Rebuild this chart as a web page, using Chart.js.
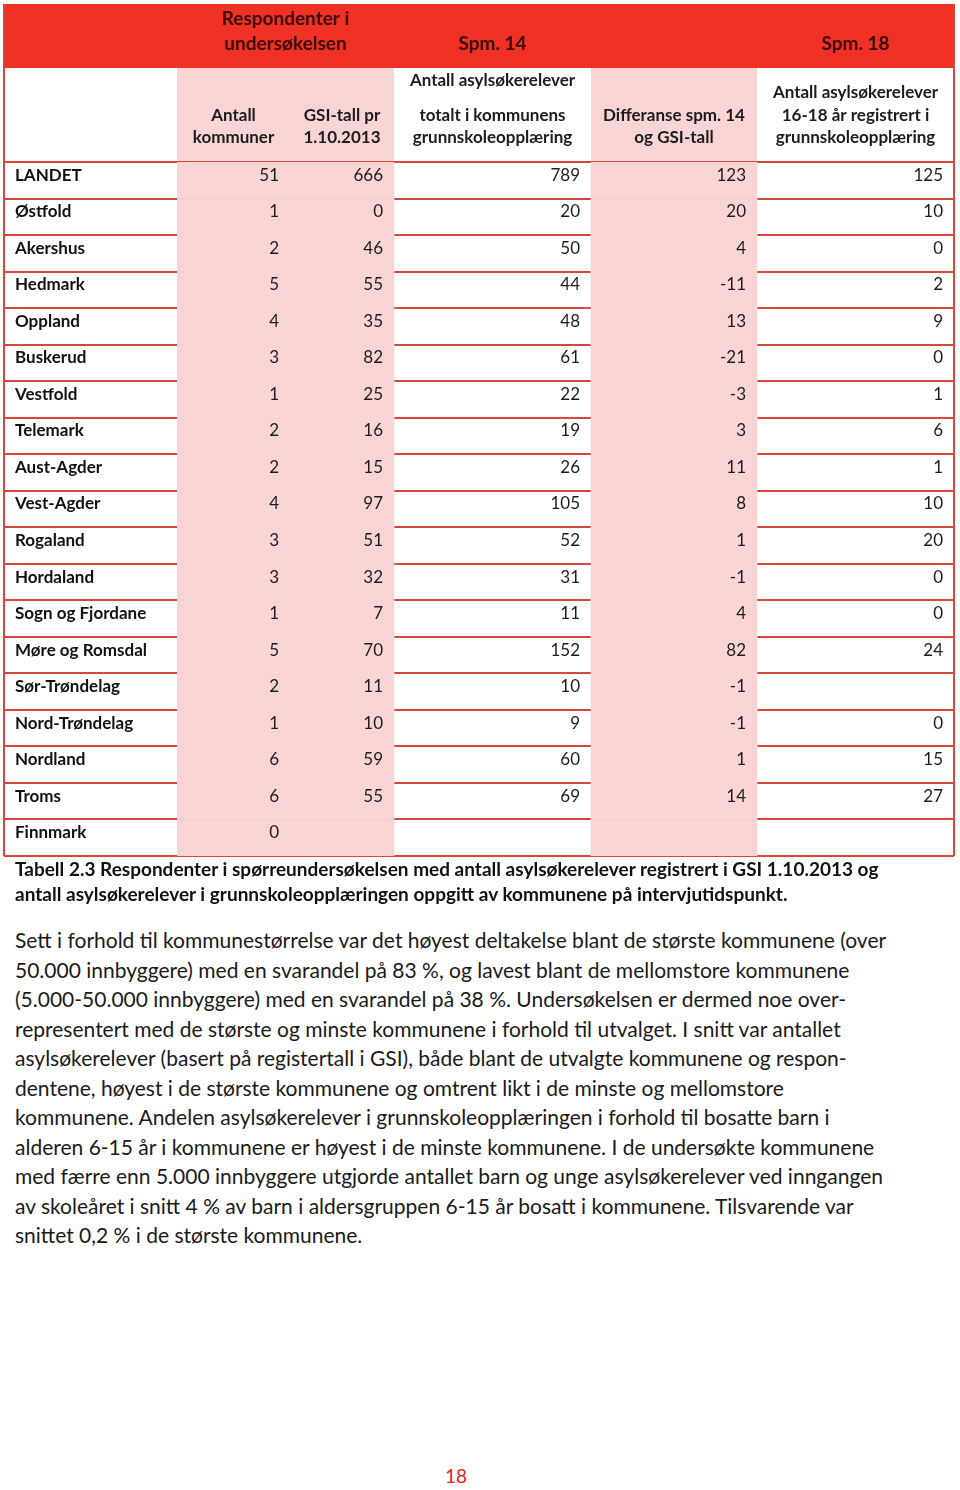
<!DOCTYPE html>
<html lang="no">
<head>
<meta charset="utf-8">
<title>Tabell 2.3</title>
<script src="https://cdn.jsdelivr.net/npm/chart.js@4/dist/chart.umd.min.js"></script>
<style>
  html, body { margin: 0; padding: 0; background: #fff; }
  body { width: 960px; height: 1490px; position: relative; font-family: Lato, "Open Sans", sans-serif; }
  #tabell { position: absolute; left: 0; top: 0; }
  .caption { position: absolute; left: 15px; top: 856px; font-weight: bold; font-size: 19px; line-height: 25px; color: #111; white-space: nowrap; }
  .tekst { position: absolute; left: 15px; top: 925px; font-size: 21px; line-height: 29.5px; color: #1a1a1a; white-space: nowrap; }
  .sidetall { position: absolute; left: 0; width: 912px; top: 1466px; text-align: center; font-size: 19px; line-height: 20px; color: #e2231a; }
</style>
</head>
<body>
<canvas id="tabell" width="960" height="870"></canvas>

<div class="caption">
  Tabell 2.3 Respondenter i spørreundersøkelsen med antall asylsøkerelever registrert i GSI 1.10.2013 og<br>
  antall asylsøkerelever i grunnskoleopplæringen oppgitt av kommunene på intervjutidspunkt.
</div>

<div class="tekst">
  Sett i forhold til kommunestørrelse var det høyest deltakelse blant de største kommunene (over<br>
  50.000 innbyggere) med en svarandel på 83 %, og lavest blant de mellomstore kommunene<br>
  (5.000-50.000 innbyggere) med en svarandel på 38 %. Undersøkelsen er dermed noe over-<br>
  representert med de største og minste kommunene i forhold til utvalget. I snitt var antallet<br>
  asylsøkerelever (basert på registertall i GSI), både blant de utvalgte kommunene og respon-<br>
  dentene, høyest i de største kommunene og omtrent likt i de minste og mellomstore<br>
  kommunene. Andelen asylsøkerelever i grunnskoleopplæringen i forhold til bosatte barn i<br>
  alderen 6-15 år i kommunene er høyest i de minste kommunene. I de undersøkte kommunene<br>
  med færre enn 5.000 innbyggere utgjorde antallet barn og unge asylsøkerelever ved inngangen<br>
  av skoleåret i snitt 4 % av barn i aldersgruppen 6-15 år bosatt i kommunene. Tilsvarende var<br>
  snittet 0,2 % i de største kommunene.
</div>

<div class="sidetall">18</div>

<script>
// --- data -----------------------------------------------------------------
const fylker = ['LANDET', 'Østfold', 'Akershus', 'Hedmark', 'Oppland', 'Buskerud', 'Vestfold',
  'Telemark', 'Aust-Agder', 'Vest-Agder', 'Rogaland', 'Hordaland', 'Sogn og Fjordane',
  'Møre og Romsdal', 'Sør-Trøndelag', 'Nord-Trøndelag', 'Nordland', 'Troms', 'Finnmark'];

const antallKommuner = [51, 1, 2, 5, 4, 3, 1, 2, 2, 4, 3, 3, 1, 5, 2, 1, 6, 6, 0];
const gsiTall        = [666, 0, 46, 55, 35, 82, 25, 16, 15, 97, 51, 32, 7, 70, 11, 10, 59, 55, null];
const spm14Totalt    = [789, 20, 50, 44, 48, 61, 22, 19, 26, 105, 52, 31, 11, 152, 10, 9, 60, 69, null];
const differanse     = [123, 20, 4, -11, 13, -21, -3, 3, 11, 8, 1, -1, 4, 82, -1, -1, 1, 14, null];
const spm18          = [125, 10, 0, 2, 9, 0, 1, 6, 1, 10, 20, 0, 0, 24, null, 0, 15, 27, null];

// header texts
const gruppeTitler = [['Respondenter i', 'undersøkelsen'], ['Spm. 14'], [], ['Spm. 18']];
const kolonneTitler = [
  ['Antall', 'kommuner'],
  ['GSI-tall pr', '1.10.2013'],
  ['Antall asylsøkerelever', 'totalt i kommunens', 'grunnskoleopplæring'],
  ['Differanse spm. 14', 'og GSI-tall'],
  ['Antall asylsøkerelever', '16-18 år registrert i', 'grunnskoleopplæring']
];

// --- layout (pixels) --------------------------------------------------------
const kantX = [4, 177, 290, 394, 591, 757, 954]; // column edges, label column first
const gruppeSpenn = [[1, 3], [3, 4], [4, 5], [5, 6]];
const gruppeY = [[19, 44], [44], [], [44]];
const kolonneY = [[116, 138], [116, 138], [81, 116, 138], [116, 138], [93, 116, 138]];
const topp = 4, hode1Bunn = 68, hode2Bunn = 162, bunn = 856;

const ROD = '#ee3124';
const LINJE = '#d8463b';
const ROSA = '#f9d4d4';
const FONT = 'Lato';

const kolonner = [antallKommuner, gsiTall, spm14Totalt, differanse, spm18];

const tabellPlugin = {
  id: 'tabell',
  beforeDraw(chart) {
    const ctx = chart.ctx;
    ctx.save();
    ctx.fillStyle = ROD;
    ctx.fillRect(kantX[0], topp, kantX[6] - kantX[0], hode1Bunn - topp);
    ctx.fillStyle = ROSA;
    ctx.fillRect(kantX[1], hode1Bunn, kantX[3] - kantX[1], hode2Bunn - hode1Bunn);
    ctx.fillRect(kantX[4], hode1Bunn, kantX[5] - kantX[4], hode2Bunn - hode1Bunn);
    ctx.restore();
  },
  afterDraw(chart) {
    const ctx = chart.ctx;
    const x = chart.scales.x;
    const y = chart.scales.y;
    ctx.save();

    // header row 1
    ctx.font = 'bold 19px ' + FONT;
    ctx.fillStyle = '#3a0c06';
    ctx.textAlign = 'center';
    ctx.textBaseline = 'middle';
    gruppeTitler.forEach((linjer, g) => {
      const [a, b] = gruppeSpenn[g];
      const cx = (kantX[a] + kantX[b]) / 2;
      linjer.forEach((t, i) => ctx.fillText(t, cx, gruppeY[g][i]));
    });

    // header row 2
    ctx.font = 'bold 17px ' + FONT;
    ctx.fillStyle = '#1c1c1c';
    kolonneTitler.forEach((linjer, c) => {
      const cx = (kantX[c + 1] + kantX[c + 2]) / 2;
      linjer.forEach((t, i) => ctx.fillText(t, cx, kolonneY[c][i]));
    });

    // cell values, right aligned in each column
    ctx.font = '17px ' + FONT;
    ctx.textAlign = 'right';
    kolonner.forEach((verdier, c) => {
      const hoyre = x.getPixelForValue(kantX[c + 2]) - 11;
      verdier.forEach((v, i) => {
        if (v === null) return;
        ctx.fillText(String(v), hoyre, y.getPixelForValue(i) - 5);
      });
    });

    // outer borders
    ctx.strokeStyle = LINJE;
    ctx.lineWidth = 2;
    ctx.beginPath();
    ctx.moveTo(kantX[0], topp);
    ctx.lineTo(kantX[0], bunn);
    ctx.moveTo(kantX[6], topp);
    ctx.lineTo(kantX[6], bunn);
    ctx.stroke();
    ctx.restore();
  }
};

// pink columns in the data rows are floating bars across each row
const rosaSoyle = (fra, til) => ({
  data: fylker.map(() => [kantX[fra], kantX[til]]),
  backgroundColor: ROSA,
  borderWidth: 0,
  grouped: false,
  barPercentage: 1,
  categoryPercentage: 1
});

const ctx = document.getElementById('tabell').getContext('2d');
new Chart(ctx, {
  type: 'bar',
  data: {
    labels: fylker,
    datasets: [rosaSoyle(1, 3), rosaSoyle(4, 5)]
  },
  options: {
    indexAxis: 'y',
    responsive: false,
    animation: false,
    events: [],
    layout: {
      padding: { left: 15, right: 960 - kantX[6], top: hode2Bunn, bottom: 870 - bunn }
    },
    plugins: {
      legend: { display: false },
      tooltip: { enabled: false }
    },
    scales: {
      x: {
        type: 'linear',
        display: false,
        min: kantX[1],
        max: kantX[6]
      },
      y: {
        type: 'category',
        z: 1,
        offset: true,
        afterFit: (scale) => { scale.width = kantX[1] - 15; },
        border: { display: false },
        grid: {
          offset: true,
          color: LINJE,
          lineWidth: 2,
          drawTicks: true,
          tickLength: kantX[1] - kantX[0]
        },
        ticks: {
          crossAlign: 'far',
          padding: 0,
          labelOffset: -5,
          color: '#111',
          font: { family: FONT, size: 17, weight: 'bold' }
        }
      }
    }
  },
  plugins: [tabellPlugin]
});
</script>
</body>
</html>
